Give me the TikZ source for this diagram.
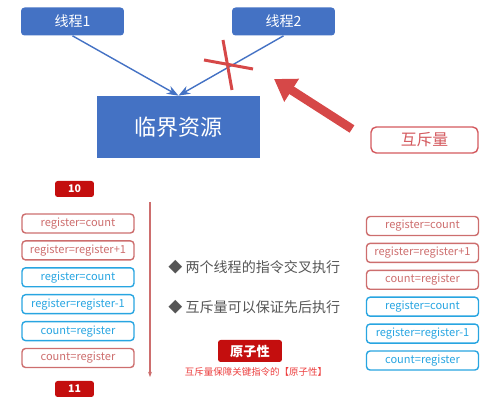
\documentclass[tikz,border=0pt]{standalone}
\usepackage{fontspec}
\setmainfont{Noto Sans CJK SC}
\usetikzlibrary{arrows.meta,positioning}
\definecolor{threadblue}{RGB}{68,114,196}
\definecolor{crossred}{RGB}{214,72,72}
\definecolor{mutexred}{RGB}{212,90,95}
\definecolor{darkred}{RGB}{196,14,14}
\definecolor{regred}{RGB}{205,110,110}
\definecolor{regblue}{RGB}{40,165,225}
\definecolor{notered}{RGB}{236,62,62}
\definecolor{bulletgray}{RGB}{85,85,85}

\begin{document}
\begin{tikzpicture}[x=0.02cm,y=-0.02cm,node distance=0.13cm,
    thread/.style={rectangle,rounded corners=2pt,fill=threadblue,text=white,minimum width=2.06cm,minimum height=0.56cm,inner sep=0pt,font=\fontsize{8}{9}\selectfont},
    resource/.style={rectangle,fill=threadblue,text=white,minimum width=3.26cm,minimum height=1.24cm,inner sep=0pt,font=\fontsize{12.5}{14}\selectfont},
    mutex/.style={rectangle,rounded corners=3pt,draw=mutexred,line width=0.8pt,fill=white,text=mutexred,minimum width=2.14cm,minimum height=0.52cm,inner sep=0pt,font=\fontsize{9}{10}\selectfont},
    value/.style={rectangle,rounded corners=1.5pt,fill=darkred,text=white,minimum width=0.78cm,minimum height=0.32cm,inner sep=0pt,font=\bfseries\fontsize{6}{7}\selectfont},
    regr/.style={rectangle,rounded corners=2pt,draw=regred,line width=0.8pt,text=regred,minimum width=2.24cm,minimum height=0.38cm,inner sep=0pt,font=\fontsize{6.3}{7}\selectfont},
    regb/.style={regr,draw=regblue,text=regblue},
    bullet/.style={anchor=west,text=bulletgray,inner sep=0pt,font=\fontsize{8}{9}\selectfont},
    arrow/.style={->,>=Stealth,line width=0.8pt,threadblue}]
    \useasboundingbox (0,0) rectangle (500,404);

    % threads and resource
    \node[thread] (t1) at (72.5,21.5) {线程1};
    \node[thread] (t2) at (283.5,21.5) {线程2};
    \node[resource] (res) at (178.5,127) {临界资源};
    \node[mutex] (mtx) at (424.5,140) {互斥量};
    \draw[arrow] (t1.south) -- (res.north);
    \draw[arrow] (t2.south) -- (res.north);

    % cross and mutex arrow
    \draw[crossred,line width=1.7pt] (204,60) -- (253,69);
    \draw[crossred,line width=1.7pt] (223,40) -- (232,90);
    \coordinate (mtail) at (352,129);
    \coordinate (mtip) at (274,79);
    \draw[crossred,line width=5pt,-{Triangle[length=0.42cm,width=0.52cm]}] (mtail) -- (mtip);

    % thread interleaving
    \node[value] (v10) at (74.5,189) {10};
    \node[regr] (l1) at (78,223.5) {register=count};
    \node[regr,below=of l1] (l2) {register=register+1};
    \node[regb,below=of l2] (l3) {register=count};
    \node[regb,below=of l3] (l4) {register=register-1};
    \node[regb,below=of l4] (l5) {count=register};
    \node[regr,below=of l5] (l6) {count=register};
    \node[value] (v11) at (74.5,389) {11};
    \coordinate (ltop) at (150,202);
    \coordinate (lbot) at (150,377);
    \draw[regred,line width=0.8pt,-{Stealth[length=3pt]}] (ltop) -- (lbot);

    % notes
    \node[bullet] (b1) at (168,267) {◆\ 两个线程的指令交叉执行};
    \node[bullet] (b2) at (168,307) {◆\ 互斥量可以保证先后执行};
    \node[value,minimum width=1.28cm,minimum height=0.44cm,font=\bfseries\fontsize{7.5}{8}\selectfont] (atom) at (250,351) {原子性};
    \node[text=notered,inner sep=0pt,font=\fontsize{5.4}{6}\selectfont] (note) at (256,372) {互斥量保障关键指令的【原子性】};

    % with mutex
    \node[regr] (r1) at (422.5,226) {register=count};
    \node[regr,below=of r1] (r2) {register=register+1};
    \node[regr,below=of r2] (r3) {count=register};
    \node[regb,below=of r3] (r4) {register=count};
    \node[regb,below=of r4] (r5) {register=register-1};
    \node[regb,below=of r5] (r6) {count=register};
\end{tikzpicture}
\end{document}
